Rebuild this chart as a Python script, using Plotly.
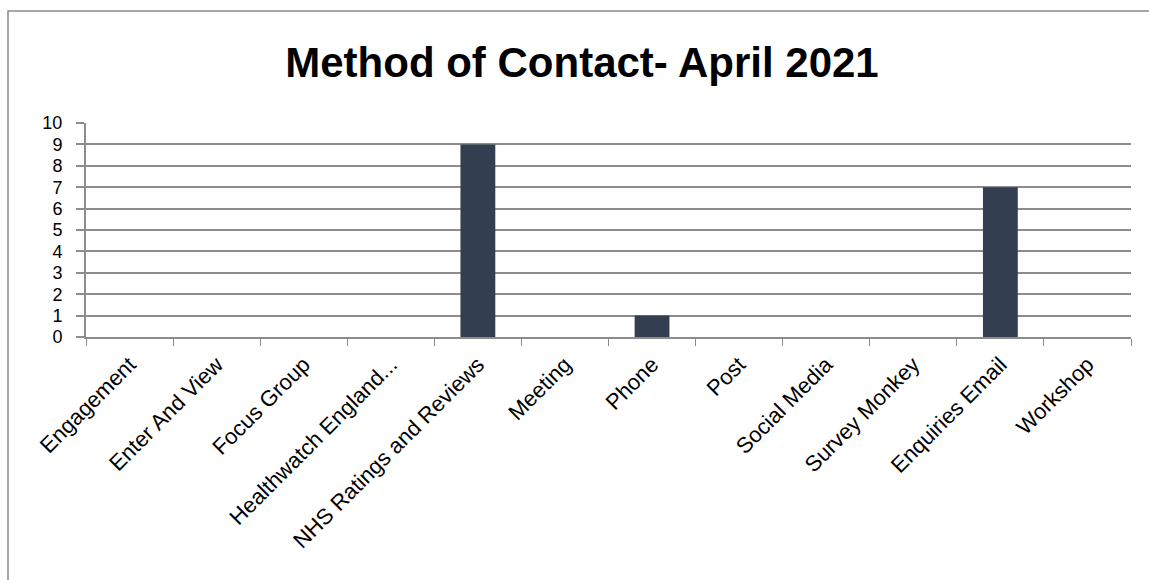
import plotly.graph_objects as go

categories = [
    "Engagement", "Enter And View", "Focus Group", "Healthwatch England...",
    "NHS Ratings and Reviews", "Meeting", "Phone", "Post", "Social Media",
    "Survey Monkey", "Enquiries Email", "Workshop",
]
counts = [0, 0, 0, 0, 9, 0, 1, 0, 0, 0, 7, 0]
y_ticks = list(range(0, 11))

W, H = 1149, 580
L, R, T, B = 86, 18, 123, 243
plot_w = W - L - R
plot_h = H - T - B

fig = go.Figure(
    go.Bar(
        x=categories,
        y=counts,
        marker=dict(color="#333F50", line=dict(width=0)),
    )
)

x_font = dict(family="Liberation Sans, Arial, sans-serif", size=22, color="#000000")
y_font = dict(family="Liberation Sans, Arial, sans-serif", size=18, color="#000000")

fig.update_layout(
    width=W,
    height=H,
    margin=dict(l=L, r=R, t=T, b=B),
    paper_bgcolor="#FFFFFF",
    plot_bgcolor="#FFFFFF",
    bargap=0.6,
    showlegend=False,
    title=dict(
        text="<b>Method of Contact- April 2021</b>",
        font=dict(family="Liberation Sans, Arial, sans-serif", size=42, color="#000000"),
        x=582 / W,
        xanchor="center",
        xref="container",
        y=1 - 62 / H,
        yanchor="middle",
        yref="container",
    ),
    xaxis=dict(
        type="category",
        tickangle=-45,
        tickfont=x_font,
        showline=True,
        linecolor="#8C8C8C",
        linewidth=2,
        ticks="outside",
        ticklen=7,
        tickcolor="#8C8C8C",
        tickwidth=1,
        tickson="boundaries",
        showgrid=False,
        zeroline=False,
        ticklabelstandoff=4,
    ),
    yaxis=dict(
        range=[0, 10],
        tickvals=y_ticks,
        tickfont=y_font,
        showline=True,
        linecolor="#8C8C8C",
        linewidth=2,
        ticks="outside",
        ticklen=8,
        tickcolor="#8C8C8C",
        tickwidth=2,
        showgrid=True,
        gridcolor="#8C8C8C",
        gridwidth=2,
        zeroline=False,
        ticklabelstandoff=10,
    ),
    shapes=[
        # outer chart frame, open at the right and bottom edges of the page
        dict(
            type="rect",
            xref="paper",
            yref="paper",
            x0=(8 - L) / plot_w,
            x1=(W + 20 - L) / plot_w,
            y0=-(B + 20) / plot_h,
            y1=(H - B - 11) / plot_h,
            line=dict(color="#8C8C8C", width=1.5),
            layer="below",
        )
    ],
)

fig.write_html("out.html")
